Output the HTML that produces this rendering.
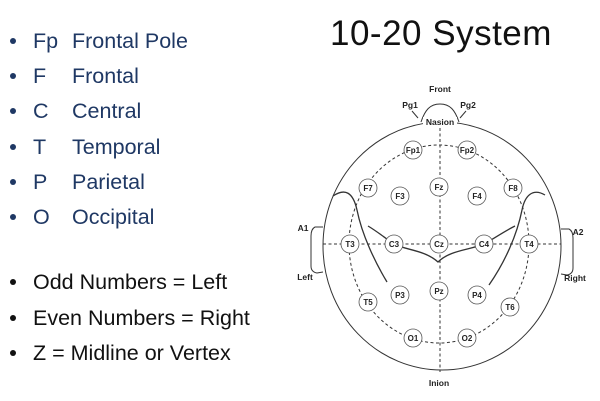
<!DOCTYPE html>
<html><head><style>
body{margin:0;width:600px;height:401px;background:#fff;position:relative;overflow:hidden;font-family:"Liberation Sans",sans-serif}
.r{position:absolute;font-size:21.5px;line-height:20px;white-space:nowrap}
.b{position:absolute;left:10px;width:6px;height:6px;border-radius:50%}
.n{color:#1f3864}.k{color:#111}
.title{position:absolute;left:330px;top:14px;font-size:35px;color:#111;letter-spacing:0.5px}
</style></head><body>
<div class="title">10-20 System</div>
<div class="n">
<div class="b" style="top:38px;background:#1f3864"></div><div class="r" style="left:33px;top:31px">Fp</div><div class="r" style="left:72px;top:31px">Frontal Pole</div>
<div class="b" style="top:73px;background:#1f3864"></div><div class="r" style="left:33px;top:66px">F</div><div class="r" style="left:72px;top:66px">Frontal</div>
<div class="b" style="top:108px;background:#1f3864"></div><div class="r" style="left:33px;top:101px">C</div><div class="r" style="left:72px;top:101px">Central</div>
<div class="b" style="top:144px;background:#1f3864"></div><div class="r" style="left:33px;top:137px">T</div><div class="r" style="left:72px;top:137px">Temporal</div>
<div class="b" style="top:179px;background:#1f3864"></div><div class="r" style="left:33px;top:172px">P</div><div class="r" style="left:72px;top:172px">Parietal</div>
<div class="b" style="top:214px;background:#1f3864"></div><div class="r" style="left:33px;top:207px">O</div><div class="r" style="left:72px;top:207px">Occipital</div>
</div>
<div class="k">
<div class="b" style="top:279px;background:#111"></div><div class="r" style="left:33px;top:272px">Odd Numbers = Left</div>
<div class="b" style="top:315px;background:#111"></div><div class="r" style="left:33px;top:308px">Even Numbers = Right</div>
<div class="b" style="top:350px;background:#111"></div><div class="r" style="left:33px;top:343px">Z = Midline or Vertex</div>
</div>
<svg width="600" height="401" style="position:absolute;left:0;top:0" font-family="Liberation Sans,sans-serif" font-weight="bold" font-size="8.5" fill="#222">
<g fill="none" stroke="#333" stroke-width="1">
<ellipse cx="442" cy="246" rx="119" ry="124"/>
<path d="M421,122 C425,110 430,104 440,104 C450,104 455,110 459,122"/>
<path d="M323,227 L315,227 Q311,229 311,236 L311,266 Q311,272 317,273 L323,272"/>
<path d="M561,229 L569,229 Q573,231 573,238 L573,268 Q573,274 567,275 L561,274"/>
<path d="M412,111 L418,118"/><path d="M466,111 L460,118"/>
<g stroke-dasharray="3,2.5">
<ellipse cx="439" cy="244" rx="90" ry="99"/>
<line x1="440" y1="128" x2="440" y2="372"/>
<line x1="323" y1="244" x2="561" y2="244"/>
</g>
<path d="M333,196 C345,188 353,192 357,210 C362,235 375,262 387,282" stroke-width="1.3"/>
<path d="M545,195 C533,188 525,195 522,210 C517,235 505,262 489,285" stroke-width="1.3"/>
<path d="M368,226 C378,232 385,238 394,244 C405,250 425,250 438,262 C450,250 470,250 484,244 C495,238 503,232 515,226" stroke-width="1.3"/>
</g>
<g fill="#fff" stroke="#555" stroke-width="0.8">
<circle cx="413" cy="150" r="9"/><circle cx="467" cy="150" r="9"/>
<circle cx="368" cy="188" r="9"/><circle cx="400" cy="196" r="9"/><circle cx="439" cy="187" r="9"/><circle cx="477" cy="196" r="9"/><circle cx="513" cy="188" r="9"/>
<circle cx="350" cy="244" r="9"/><circle cx="394" cy="244" r="9"/><circle cx="439" cy="244" r="9"/><circle cx="484" cy="244" r="9"/><circle cx="529" cy="244" r="9"/>
<circle cx="368" cy="302" r="9"/><circle cx="400" cy="295" r="9"/><circle cx="439" cy="291" r="9"/><circle cx="477" cy="295" r="9"/><circle cx="510" cy="307" r="9"/>
<circle cx="413" cy="338" r="9"/><circle cx="467" cy="338" r="9"/>
</g>
<g text-anchor="middle" font-size="8">
<text x="413" y="153">Fp1</text><text x="467" y="153">Fp2</text>
<text x="368" y="191">F7</text><text x="400" y="199">F3</text><text x="439" y="190">Fz</text><text x="477" y="199">F4</text><text x="513" y="191">F8</text>
<text x="350" y="247">T3</text><text x="394" y="247">C3</text><text x="439" y="247">Cz</text><text x="484" y="247">C4</text><text x="529" y="247">T4</text>
<text x="368" y="305">T5</text><text x="400" y="298">P3</text><text x="439" y="294">Pz</text><text x="477" y="298">P4</text><text x="510" y="310">T6</text>
<text x="413" y="341">O1</text><text x="467" y="341">O2</text>
</g>
<g text-anchor="middle">
<text x="440" y="92">Front</text>
<text x="410" y="108">Pg1</text><text x="468" y="108">Pg2</text>
<rect x="423" y="117" width="34" height="10" fill="#fff"/>
<text x="440" y="125">Nasion</text>
<text x="303" y="231">A1</text><text x="578" y="235">A2</text>
<text x="305" y="280">Left</text><text x="575" y="281">Right</text>
<text x="439" y="386">Inion</text>
</g>
</svg>
</body></html>
